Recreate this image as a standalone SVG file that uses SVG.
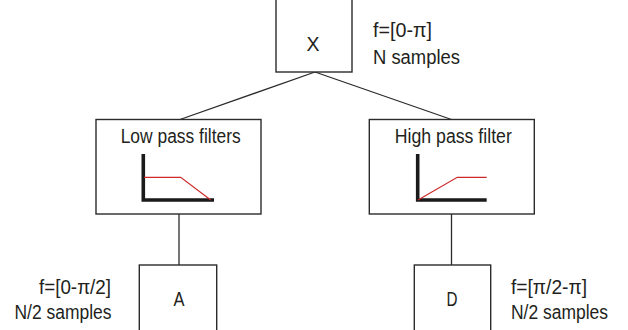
<svg xmlns="http://www.w3.org/2000/svg" width="628" height="330" viewBox="0 0 628 330">
<style>
.box{fill:#fff;stroke:#2b2b2b;stroke-width:1.4}
.conn{fill:none;stroke:#2b2b2b;stroke-width:1.3}
.axis{fill:none;stroke:#1a1a1a;stroke-width:3.6;stroke-linecap:butt;stroke-linejoin:miter}
.resp{fill:none;stroke:#cc2a2a;stroke-width:1.2}
text{font-family:"Liberation Sans",Arial,sans-serif;fill:#231f20;font-size:20px}
.mid{text-anchor:middle}
.end{text-anchor:end}
</style>
<rect width="628" height="330" fill="#fff"/>
<g id="connectors">
<line class="conn" x1="315" y1="72" x2="180" y2="119.5"/>
<line class="conn" x1="315" y1="72" x2="451.5" y2="119.5"/>
<line class="conn" x1="179" y1="214" x2="179" y2="265"/>
<line class="conn" x1="451.5" y1="214" x2="451.5" y2="265"/>
</g>
<g id="node-X">
<rect class="box" x="276" y="-3" width="76" height="75"/>
<text class="mid" x="313" y="51" textLength="13" lengthAdjust="spacingAndGlyphs">X</text>
<text x="373" y="36.5" textLength="59" lengthAdjust="spacingAndGlyphs">f=[0-π]</text>
<text x="373" y="63.5" textLength="87" lengthAdjust="spacingAndGlyphs">N samples</text>
</g>
<g id="node-lowpass">
<rect class="box" x="96" y="119.5" width="165" height="94.5"/>
<text class="mid" x="180.7" y="143" textLength="120" lengthAdjust="spacingAndGlyphs">Low pass filters</text>
<polyline class="axis" points="143.3,154 143.3,200 214,200"/>
<polyline class="resp" points="144,177.3 180.7,177.3 210.7,200"/>
</g>
<g id="node-highpass">
<rect class="box" x="369.3" y="119.5" width="165" height="94.5"/>
<text class="mid" x="453.3" y="143" textLength="117" lengthAdjust="spacingAndGlyphs">High pass filter</text>
<polyline class="axis" points="417.7,154 417.7,200 486.7,200"/>
<polyline class="resp" points="418,200 457.3,177.3 486.7,177.3"/>
</g>
<g id="node-A">
<rect class="box" x="139.3" y="265" width="77.4" height="70"/>
<text class="mid" x="179" y="305.5" textLength="11" lengthAdjust="spacingAndGlyphs">A</text>
<text class="end" x="111" y="294" textLength="72" lengthAdjust="spacingAndGlyphs">f=[0-π/2]</text>
<text class="end" x="111.5" y="319" textLength="97" lengthAdjust="spacingAndGlyphs">N/2 samples</text>
</g>
<g id="node-D">
<rect class="box" x="414.3" y="265" width="76.4" height="70"/>
<text class="mid" x="452" y="305.5" textLength="11" lengthAdjust="spacingAndGlyphs">D</text>
<text x="511" y="294" textLength="76" lengthAdjust="spacingAndGlyphs">f=[π/2-π]</text>
<text x="511" y="319" textLength="97" lengthAdjust="spacingAndGlyphs">N/2 samples</text>
</g>
</svg>
